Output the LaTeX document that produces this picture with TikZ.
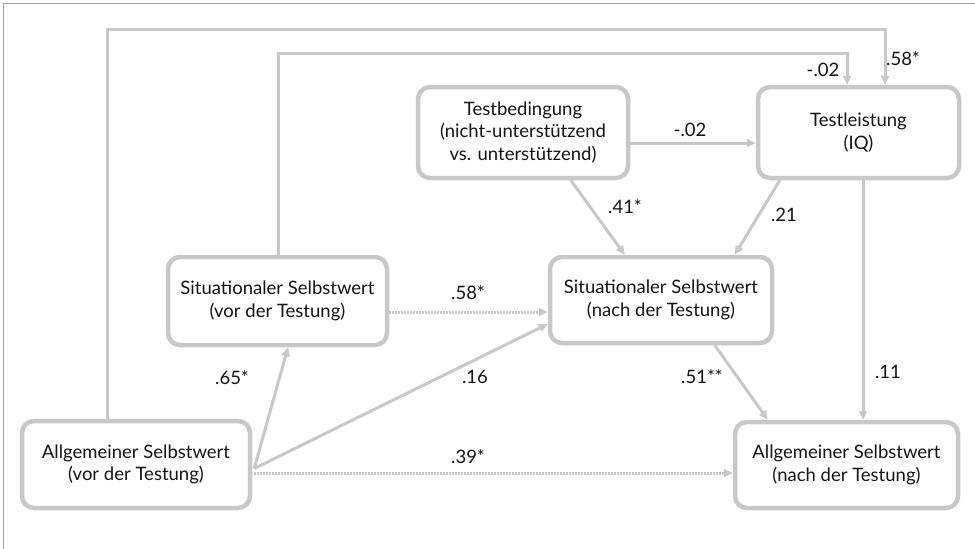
\documentclass[tikz,border=0pt]{standalone}
\usepackage{fontspec}
\setmainfont{Lato}
\usetikzlibrary{arrows.meta,calc}
\definecolor{lin}{HTML}{C8C8C8}
\definecolor{frm}{HTML}{A0A0A0}
\definecolor{txt}{HTML}{141414}
\begin{document}
\begin{tikzpicture}[x=1pt,y=-1pt,
  box/.style={draw=lin,line width=4.5pt,rounded corners=12pt,align=center,text=txt,
    font=\fontsize{18.5}{22.5}\selectfont,inner sep=0pt},
  conn/.style={draw=lin,line width=3pt,-{Triangle[length=9pt,width=8pt]}},
  dotconn/.style={conn,dash pattern=on 1.6pt off 1.4pt},
  lbl/.style={text=txt,font=\fontsize{18.5}{22.5}\selectfont,inner sep=0pt}]
\useasboundingbox (0,0) rectangle (975,549);
\draw[frm,line width=1.5pt] (3.5,549) -- (3.5,3.5) -- (975,3.5);
% boxes
\node[box,minimum width=210pt,minimum height=91pt] (tb) at (523,132.5) {Testbedingung\\(nicht-unterstützend\\vs. unterstützend)};
\node[box,minimum width=201pt,minimum height=91pt] (tl) at (858.5,132.5) {Testleistung\\(IQ)};
\node[box,minimum width=219pt,minimum height=88pt] (sv) at (277.5,301) {Situationaler Selbstwert\\(vor der Testung)};
\node[box,minimum width=222pt,minimum height=86pt] (sn) at (661,300) {Situationaler Selbstwert\\(nach der Testung)};
\node[box,minimum width=228pt,minimum height=87pt] (av) at (136,464.5) {Allgemeiner Selbstwert\\(vor der Testung)};
\node[box,minimum width=223pt,minimum height=86pt] (an) at (846.5,465) {Allgemeiner Selbstwert\\(nach der Testung)};
% helper coordinates
\coordinate (x11) at (863,0);
\coordinate (yss) at (0,312);
\coordinate (top1) at (107,29);
\coordinate (top1r) at (885,29);
\coordinate (top2) at (278,53);
\coordinate (top2r) at (847,53);
\coordinate (avo) at ($(av.east)+(2,4)$);
\coordinate (avd) at ($(av.east)+(2,8.5)$);
% connectors
\draw[conn] ($(tb.east)+(0,10.5)$) -- ($(tl.west)+(0,10.5)$);
\draw[conn] ($(tb.south west)+(155,0)$) -- ($(sn.north west)+(77,0)$);
\draw[conn] ($(tl.south west)+(24,0)$) -- ($(sn.north west)+(187,0)$);
\draw[conn] (tl.south -| x11) -- (an.north -| x11);
\draw[conn] ($(sn.south west)+(167,0)$) -- ($(an.north west)+(35,0)$);
\draw[dotconn] (sv.east |- yss) -- (sn.west |- yss);
\draw[conn] (avo) -- ($(sv.south)+(10.5,0)$);
\draw[conn] (avo) -- ($(sn.west)+(0,24)$);
\draw[dotconn] (avd) -- (an.west |- avd);
\draw[conn] (av.north -| top1) -- (top1) -- (top1r) -- (tl.north -| top1r);
\draw[conn] (sv.north -| top2) -- (top2) -- (top2r) -- (tl.north -| top2r);
% labels
\node[lbl] (l1) at (690,130) {-.02};
\node[lbl] (l2) at (823,70) {-.02};
\node[lbl] (l3) at (903,59) {.58*};
\node[lbl] (l4) at (625,207) {.41*};
\node[lbl] (l5) at (784,215) {.21};
\node[lbl] (l6) at (888,372) {.11};
\node[lbl] (l7) at (702,377) {.51**};
\node[lbl] (l8) at (468,293) {.58*};
\node[lbl] (l9) at (232,378) {.65*};
\node[lbl] (l10) at (475,377) {.16};
\node[lbl] (l11) at (468,457) {.39*};
\end{tikzpicture}
\end{document}
